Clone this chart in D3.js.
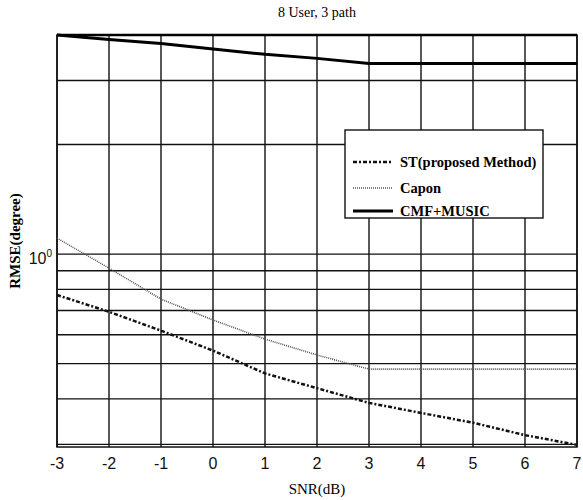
<!DOCTYPE html>
<html>
<head>
<meta charset="utf-8">
<script src="https://cdn.jsdelivr.net/npm/d3@7"></script>
<style>
body{margin:0;background:#fff;}
</style>
</head>
<body>
<svg width="583" height="500"></svg>
<script>
// 数据
var snr = [-3, -2, -1, 0, 1, 2, 3, 4, 5, 6, 7];
var st = [0.772, 0.694, 0.616, 0.543, 0.470, 0.428, 0.390, 0.366, 0.344, 0.318, 0.299];
var capon = [1.106, 0.915, 0.752, 0.659, 0.584, 0.528, 0.483, 0.483, 0.483, 0.483, 0.483];
var cmf = [4.0, 3.89, 3.79, 3.66, 3.54, 3.45, 3.34, 3.34, 3.34, 3.34, 3.34];
var xTicks = [-3, -2, -1, 0, 1, 2, 3, 4, 5, 6, 7];
var yGrid = [0.3, 0.4, 0.5, 0.6, 0.7, 0.8, 0.9, 1, 2, 3, 4];
var legendNames = ["ST(proposed Method)", "Capon", "CMF+MUSIC"];

var svg = d3.select("svg");
// 绘图区边界 (不能用 top, 会和 window.top 冲突)
var plotL = 57, plotR = 577, plotT = 35, plotB = 447;

var x = d3.scaleLinear().domain([-3, 7]).range([plotL, plotR]);
var y = d3.scaleLog().domain([0.295, 4]).range([plotB, plotT]);

//网格
svg.selectAll(".vg").data(xTicks).enter().append("line")
    .attr("x1", function(d){ return x(d); })
    .attr("x2", function(d){ return x(d); })
    .attr("y1", plotT).attr("y2", plotB)
    .attr("stroke", "#111").attr("stroke-width", 1.4);

svg.selectAll(".hg").data(yGrid).enter().append("line")
    .attr("x1", plotL).attr("x2", plotR)
    .attr("y1", function(d){ return y(d); })
    .attr("y2", function(d){ return y(d); })
    .attr("stroke", "#111").attr("stroke-width", 1.4);

//边框
svg.append("rect")
    .attr("x", plotL).attr("y", plotT)
    .attr("width", plotR - plotL).attr("height", plotB - plotT)
    .attr("fill", "none").attr("stroke", "#111").attr("stroke-width", 1.5);
svg.append("line")
    .attr("x1", plotL).attr("x2", plotR).attr("y1", plotT).attr("y2", plotT)
    .attr("stroke", "#000").attr("stroke-width", 2.5);

//坐标轴刻度
svg.selectAll(".xt").data(xTicks).enter().append("text")
    .attr("x", function(d){ return x(d); })
    .attr("y", 469)
    .attr("text-anchor", "middle")
    .attr("font-family", "Liberation Sans Narrow, Liberation Sans, sans-serif")
    .attr("font-size", 16)
    .attr("fill", "#111")
    .text(function(d){ return d; });

var yl = svg.append("text")
    .attr("x", 52).attr("y", y(1) + 10)
    .attr("text-anchor", "end")
    .attr("font-family", "Liberation Sans Narrow, Liberation Sans, sans-serif")
    .attr("font-size", 16)
    .attr("fill", "#111");
yl.append("tspan").text("10");
yl.append("tspan").attr("dy", -7).attr("font-size", 10).text("0");

//标题
svg.append("text")
    .attr("x", (plotL + plotR) / 2).attr("y", 17)
    .attr("text-anchor", "middle")
    .attr("font-family", "Liberation Serif, serif")
    .attr("font-size", 14)
    .text("8 User, 3 path");

svg.append("text")
    .attr("x", (plotL + plotR) / 2).attr("y", 494)
    .attr("text-anchor", "middle")
    .attr("font-family", "Liberation Serif, serif")
    .attr("font-size", 15)
    .text("SNR(dB)");

svg.append("text")
    .attr("transform", "translate(20," + ((plotT + plotB) / 2) + ") rotate(-90)")
    .attr("text-anchor", "middle")
    .attr("font-family", "Liberation Serif, serif")
    .attr("font-weight", "bold")
    .attr("font-size", 15)
    .text("RMSE(degree)");

//曲线
var line = d3.line()
    .x(function(d){ return x(d[0]); })
    .y(function(d){ return y(d[1]); });

function pairs(vals){
    return snr.map(function(s, i){ return [s, vals[i]]; });
}

var styles = [
    {data: st, color: "#111", width: 2.5, dash: "4,2,2,2"},
    {data: capon, color: "#555", width: 1.6, dash: "1,1"},
    {data: cmf, color: "#000", width: 3, dash: null}
];

styles.forEach(function(s){
    svg.append("path")
        .datum(pairs(s.data))
        .attr("d", line)
        .attr("fill", "none")
        .attr("stroke", s.color)
        .attr("stroke-width", s.width)
        .attr("stroke-dasharray", s.dash);
});

//图例
var lg = svg.append("g");
lg.append("rect")
    .attr("x", 345).attr("y", 130)
    .attr("width", 198).attr("height", 88)
    .attr("fill", "#fff").attr("stroke", "#111").attr("stroke-width", 1.4);

var rowsY = [162, 188, 211];
legendNames.forEach(function(name, i){
    var s = styles[i];
    lg.append("line")
        .attr("x1", 353).attr("x2", 393)
        .attr("y1", rowsY[i]).attr("y2", rowsY[i])
        .attr("stroke", s.color)
        .attr("stroke-width", s.width)
        .attr("stroke-dasharray", s.dash);
    lg.append("text")
        .attr("x", 400).attr("y", rowsY[i] + 5)
        .attr("font-family", "Liberation Serif, serif")
        .attr("font-weight", "bold")
        .attr("font-size", 14.5)
        .text(name);
});
</script>
</body>
</html>
